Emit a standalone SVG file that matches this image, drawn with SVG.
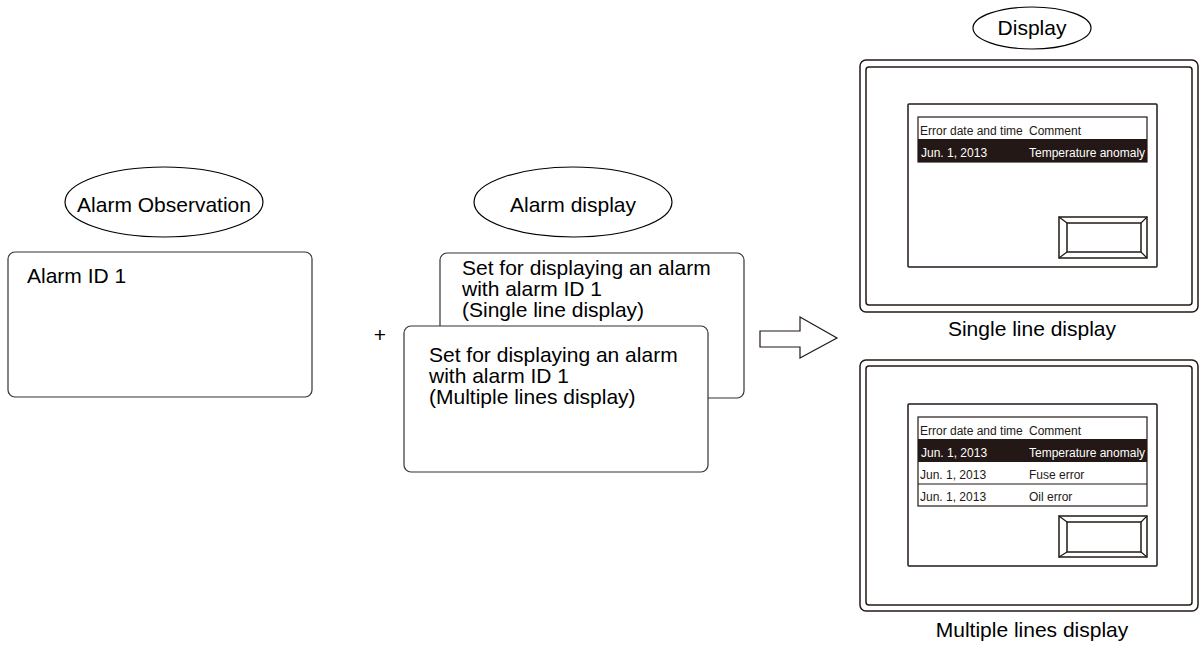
<svg xmlns="http://www.w3.org/2000/svg" width="1200" height="646" viewBox="0 0 1200 646" font-family="'Liberation Sans', Arial, Helvetica, sans-serif">
<style>
text{font-family:'Liberation Sans', Arial, Helvetica, sans-serif;fill:#000}
.lbl{font-size:21px}
.tbl{font-size:12px;fill:#231815}
.wt{fill:#fff}
.box{fill:#fff;stroke:#333;stroke-width:1.2}
.ell{fill:#fff;stroke:#000;stroke-width:1.2}
.mon{fill:none;stroke:#231815;stroke-width:1.5}
.thin{fill:none;stroke:#231815;stroke-width:1.2}
</style>
<rect width="1200" height="646" fill="#fff"/>

<g id="alarm-observation-title">
<ellipse class="ell" cx="164" cy="202" rx="99" ry="35"/>
<text class="lbl" x="164" y="212" text-anchor="middle">Alarm Observation</text>
</g>
<g id="alarm-id-box">
<rect class="box" x="8" y="252" width="304" height="145" rx="7"/>
<text class="lbl" x="27" y="283">Alarm ID 1</text>
</g>

<g id="plus">
<text class="lbl" x="380" y="342" text-anchor="middle">+</text>
</g>

<g id="alarm-display-title">
<ellipse class="ell" cx="573" cy="202" rx="99" ry="35"/>
<text class="lbl" x="573" y="212" text-anchor="middle">Alarm display</text>
</g>
<g id="single-setting">
<rect class="box" x="440" y="253" width="304" height="145" rx="7"/>
<text class="lbl" x="462" y="275">Set for displaying an alarm</text>
<text class="lbl" x="462" y="296">with alarm ID 1</text>
<text class="lbl" x="462" y="317">(Single line display)</text>
</g>
<g id="multiple-setting">
<rect class="box" x="404" y="326" width="304" height="146" rx="7"/>
<text class="lbl" x="429" y="362">Set for displaying an alarm</text>
<text class="lbl" x="429" y="383">with alarm ID 1</text>
<text class="lbl" x="429" y="404">(Multiple lines display)</text>
</g>

<g id="connectors">
<path d="M760,331 L800,331 L800,317 L837,338 L800,358 L800,347 L760,347 Z" fill="#fff" stroke="#231815" stroke-width="1.2" stroke-linejoin="miter"/>
</g>

<g id="display-title">
<ellipse class="ell" cx="1032" cy="28" rx="59" ry="21"/>
<text class="lbl" x="1032" y="35" text-anchor="middle">Display</text>
</g>

<g id="single-line-monitor">
<rect class="mon" x="860" y="60" width="338" height="252" rx="6"/>
<rect class="mon" x="866" y="67" width="326" height="238" rx="3"/>
<rect class="mon" x="908" y="104" width="249" height="163" rx="1"/>
<rect class="thin" x="918" y="117" width="229" height="45"/>
<rect x="918" y="139" width="229" height="23" fill="#231815"/>
<text class="tbl" x="920" y="135">Error date and time</text>
<text class="tbl" x="1029" y="135">Comment</text>
<text class="tbl wt" x="921" y="157">Jun. 1, 2013</text>
<text class="tbl wt" x="1029" y="157">Temperature anomaly</text>
<rect class="mon" x="1059" y="217" width="88" height="41"/>
<rect class="mon" x="1067" y="223" width="74" height="29"/>
<path class="thin" d="M1059,217 L1067,223 M1147,217 L1141,223 M1059,258 L1067,252 M1147,258 L1141,252"/>
<text class="lbl" x="1032" y="336" text-anchor="middle">Single line display</text>
</g>

<g id="multiple-lines-monitor">
<rect class="mon" x="860" y="360" width="338" height="251" rx="6"/>
<rect class="mon" x="866" y="366" width="326" height="239" rx="3"/>
<rect class="mon" x="908" y="404" width="249" height="162" rx="1"/>
<rect class="thin" x="918" y="417" width="229" height="89"/>
<rect x="918" y="439" width="229" height="23" fill="#231815"/>
<line class="thin" x1="918" y1="484" x2="1147" y2="484"/>
<text class="tbl" x="920" y="435">Error date and time</text>
<text class="tbl" x="1029" y="435">Comment</text>
<text class="tbl wt" x="921" y="457">Jun. 1, 2013</text>
<text class="tbl wt" x="1029" y="457">Temperature anomaly</text>
<text class="tbl" x="920" y="479">Jun. 1, 2013</text>
<text class="tbl" x="1029" y="479">Fuse error</text>
<text class="tbl" x="920" y="501">Jun. 1, 2013</text>
<text class="tbl" x="1029" y="501">Oil error</text>
<rect class="mon" x="1059" y="516" width="88" height="41"/>
<rect class="mon" x="1067" y="522" width="74" height="30"/>
<path class="thin" d="M1059,516 L1067,522 M1147,516 L1141,522 M1059,557 L1067,552 M1147,557 L1141,552"/>
<text class="lbl" x="1032" y="637" text-anchor="middle">Multiple lines display</text>
</g>
</svg>
